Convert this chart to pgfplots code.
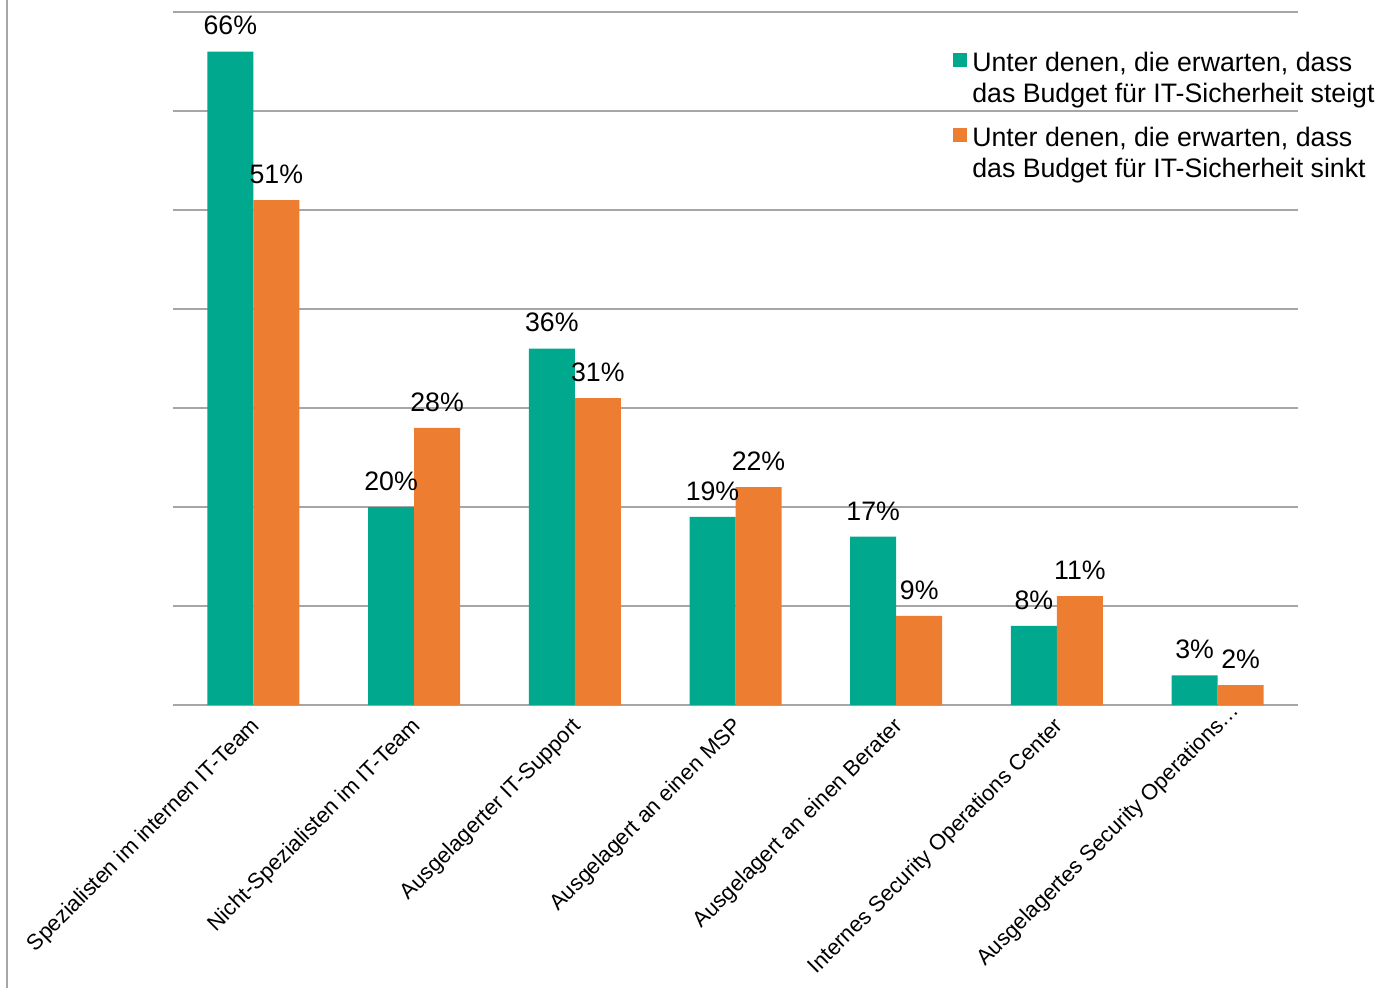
\documentclass[border=0pt]{standalone}
\usepackage{pgfplots}
\pgfplotsset{compat=1.18}
\usepackage{fontspec}
\setmainfont{Liberation Sans}
\definecolor{cgreen}{RGB}{0,168,142}
\definecolor{corange}{RGB}{237,125,49}
\definecolor{gridgray}{RGB}{166,166,166}
\begin{document}
\begin{tikzpicture}
\begin{axis}[
  at={(0,0)}, anchor=south west,
  scale only axis, width=562.5bp, height=346.5bp,
  ybar=0pt, bar width=23bp,
  xmin=-0.5, xmax=6.5, ymin=0, ymax=70,
  axis x line*=bottom, axis y line*=left,
  y axis line style={draw=none},
  x axis line style={draw=gridgray, line width=0.6bp},
  ytick={0,10,...,70}, yticklabels={}, ytick style={draw=none},
  ymajorgrids, major grid style={draw=gridgray, line width=0.6bp},
  xtick={0,...,6}, major x tick style={draw=none},
  tick align=outside,
  xticklabels={Spezialisten im internen IT-Team, Nicht-Spezialisten im IT-Team, Ausgelagerter IT-Support, Ausgelagert an einen MSP, Ausgelagert an einen Berater, Internes Security Operations Center, Ausgelagertes Security Operations…\kern-11bp},
  xticklabel style={font=\fontsize{11}{13}\selectfont, inner sep=0pt, xshift=-2bp, yshift=-1bp, rotate=45, anchor=north east},
  extra x ticks={-0.5,0.5,...,6.5}, extra x tick labels={},
  extra x tick style={major tick length=3bp, xtick style={draw=gridgray, line width=0.6bp}, grid=none},
  clip=false,
  /pgf/number format/assume math mode=true,
  nodes near coords={\pgfmathprintnumber{\pgfplotspointmeta}\%},
  every node near coord/.append style={font=\fontsize{13.4}{15.5}\selectfont, anchor=south, inner sep=0pt, yshift=8bp, text=black},
  legend style={at={(0.6933,0.948)}, anchor=north west, draw=none, fill=none, inner sep=0pt, row sep=22.3bp, column sep=0.5bp, font=\fontsize{13.4}{15.5}\selectfont, cells={anchor=base west, inner sep=0pt}},
  legend image code/.code={\fill (0bp,2.5bp) rectangle (7bp,9.5bp);},
]
\addplot[fill=cgreen, draw=none, bar shift=-11.5bp] coordinates {(0,66) (1,20) (2,36) (3,19) (4,17) (5,8) (6,3)};
\addlegendentry{\parbox[t]{210bp}{\raggedright Unter denen, die erwarten, dass\\das Budget für IT-Sicherheit steigt}}
\addplot[fill=corange, draw=none, bar shift=11.5bp] coordinates {(0,51) (1,28) (2,31) (3,22) (4,9) (5,11) (6,2)};
\addlegendentry{\parbox[t]{210bp}{\raggedright Unter denen, die erwarten, dass\\das Budget für IT-Sicherheit sinkt}}
\end{axis}
\draw[draw=gridgray, line width=0.75bp] (-83bp,-141.5bp) -- (-83bp,352.5bp);
\pgfresetboundingbox
\path[use as bounding box] (-86.5bp,-141.5bp) rectangle (604bp,352.5bp);
\end{tikzpicture}
\end{document}
